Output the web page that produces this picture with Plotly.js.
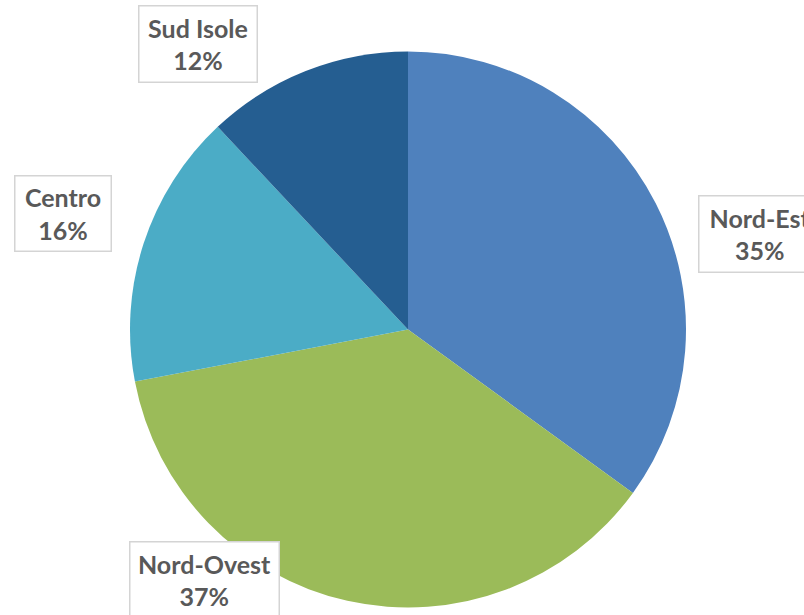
<!DOCTYPE html>
<html>
<head>
<meta charset="utf-8">
<script src="https://cdn.plot.ly/plotly-3.0.1.min.js"></script>
<style>html,body{margin:0;padding:0;background:#fff;}#chart{width:804px;height:615px;}</style>
</head>
<body>
<div id="chart"></div>
<script>
const categories = ["Nord-Est", "Nord-Ovest", "Centro", "Sud Isole"];
const values = [35, 37, 16, 12];
const colors = ["#4F81BD", "#9BBB59", "#4BACC6", "#255E91"];

const W = 804, H = 615;
// label box placement (pixels): center x, top y, box width, box height
const boxes = {
  "Nord-Est":   {cx: 760, top: 195, w: 124, h: 78},
  "Nord-Ovest": {cx: 204.5, top: 541, w: 151, h: 78},
  "Centro":     {cx: 63, top: 175, w: 98, h: 77},
  "Sud Isole":  {cx: 198, top: 5, w: 120, h: 78}
};

const total = values.reduce((a, b) => a + b, 0);
const annotations = categories.map((c, i) => {
  const b = boxes[c];
  const pct = Math.round(values[i] / total * 100);
  return {
    text: c + "<br>" + pct + "%",
    xref: "paper", yref: "paper",
    x: b.cx / W, y: 1 - b.top / H,
    xanchor: "center", yanchor: "top",
    showarrow: false,
    font: {family: "Lato, 'Open Sans', sans-serif", size: 25, color: "#595959", weight: "bold"},
    bgcolor: "#FFFFFF",
    bordercolor: "#D4D4D4",
    borderwidth: 1.5,
    borderpad: 2,
    width: b.w - 7,
    height: b.h - 7,
    align: "center", valign: "middle"
  };
});

const cx = 408, cy = 329.5, r = 278;
const data = [{
  type: "pie",
  labels: categories,
  values: values,
  marker: {colors: colors, line: {width: 0}},
  sort: false,
  direction: "clockwise",
  rotation: 0,
  textinfo: "none",
  hoverinfo: "skip",
  domain: {x: [(cx - r) / W, (cx + r) / W], y: [1 - (cy + r) / H, 1 - (cy - r) / H]}
}];

const layout = {
  width: W, height: H,
  margin: {l: 0, r: 0, t: 0, b: 0},
  paper_bgcolor: "#FFFFFF",
  showlegend: false,
  annotations: annotations
};

Plotly.newPlot("chart", data, layout, {displayModeBar: false, staticPlot: true});
</script>
</body>
</html>
